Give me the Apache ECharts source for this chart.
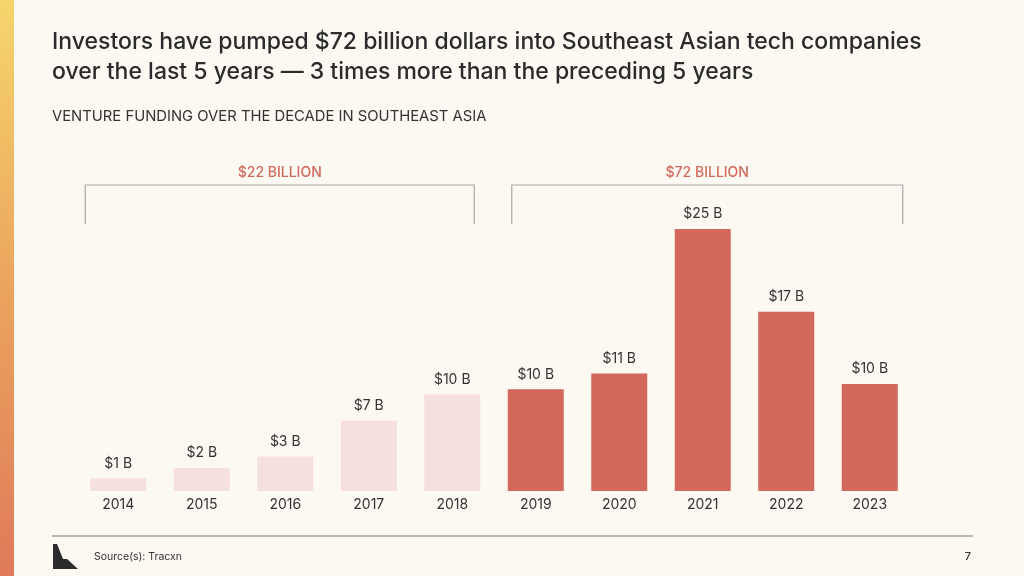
<!DOCTYPE html>
<html>
<head>
<meta charset="utf-8">
<script src="https://cdn.jsdelivr.net/npm/echarts@6/dist/echarts.min.js"></script>
<style>
html,body{margin:0;padding:0;background:#fcf8f2;}
#chart{width:1024px;height:576px;}
</style>
</head>
<body>
<div id="chart"></div>
<script>
const years = ['2014','2015','2016','2017','2018','2019','2020','2021','2022','2023'];
const funding = [1.2, 2.2, 3.3, 6.7, 9.2, 9.7, 11.2, 25, 17.1, 10.2];
const valueLabels = ['$1 B','$2 B','$3 B','$7 B','$10 B','$10 B','$11 B','$25 B','$17 B','$10 B'];
const groupLabels = ['$22 BILLION', '$72 BILLION'];
const groupStart = [0, 5];
const groupEnd = [4, 9];
const titleLines = ['Investors have pumped $72 billion dollars into Southeast Asian tech companies',
                    'over the last 5 years \u2014 3 times more than the preceding 5 years'];
const subtitle = 'VENTURE FUNDING OVER THE DECADE IN SOUTHEAST ASIA';
const sourceText = 'Source(s): Tracxn';
const pageNum = '7';

const FONT = 'Inter, "Noto Sans", sans-serif';
const chart = echarts.init(document.getElementById('chart'));

const option = {
  backgroundColor: '#fcf8f2',
  animation: false,
  grid: { left: 76.5, right: 112.5, top: 229, bottom: 85 },
  xAxis: {
    type: 'category',
    data: years,
    axisLine: { show: false },
    axisTick: { show: false },
    axisLabel: { color: '#333', fontSize: 14, fontFamily: FONT, margin: 7 }
  },
  yAxis: { type: 'value', min: 0, max: 25, show: false, splitLine: { show: false } },
  series: [{
    type: 'bar',
    data: funding,
    barWidth: 56,
    itemStyle: {
      color: function (p) { return p.dataIndex < groupStart[1] ? '#f6e0de' : '#d3695d'; }
    },
    label: {
      show: true,
      position: 'top',
      distance: 8,
      color: '#333',
      fontSize: 14,
      fontFamily: FONT,
      formatter: function (p) { return valueLabels[p.dataIndex]; }
    }
  }],
  graphic: []
};
chart.setOption(option);

// decorations
const g = [];
g.push({ type: 'rect', shape: { x: 0, y: 0, width: 14, height: 576 }, style: {
  fill: new echarts.graphic.LinearGradient(0, 0, 0, 1, [
    { offset: 0, color: '#f6d56c' }, { offset: 0.5, color: '#eba45e' }, { offset: 1, color: '#df7a5a' }
  ]) } });
g.push({ type: 'text', left: 52, top: 31, style: { text: titleLines[0], fill: '#2b2b2b', font: '500 23px ' + FONT } });
g.push({ type: 'text', left: 52, top: 61, style: { text: titleLines[1], fill: '#2b2b2b', font: '500 23px ' + FONT } });
g.push({ type: 'text', left: 52, top: 109, style: { text: subtitle, fill: '#333', font: '400 14.8px ' + FONT } });

// brackets over the two periods, positioned from the category axis
const padL = [33, 24], padR = [22, 33];
for (let i = 0; i < 2; i++) {
  const x0 = chart.convertToPixel({ xAxisIndex: 0 }, years[groupStart[i]]) - padL[i];
  const x1 = chart.convertToPixel({ xAxisIndex: 0 }, years[groupEnd[i]]) + padR[i];
  g.push({ type: 'polyline', shape: { points: [[x0, 224], [x0, 185], [x1, 185], [x1, 224]] },
    style: { stroke: '#a9a9a9', lineWidth: 1.2, fill: null } });
  g.push({ type: 'text', x: (x0 + x1) / 2, y: 173, style: { text: groupLabels[i], fill: '#d36a5e',
    font: '500 14px ' + FONT, textAlign: 'center', textVerticalAlign: 'middle' } });
}

// footer
g.push({ type: 'line', shape: { x1: 52, y1: 536, x2: 973, y2: 536 }, style: { stroke: '#777', lineWidth: 1 } });
g.push({ type: 'polygon', shape: { points: [[53, 544], [53, 569], [78, 569], [67, 559], [63, 559], [57, 544]] },
  style: { fill: '#2b2b2b' } });
g.push({ type: 'text', x: 94, y: 557, style: { text: sourceText, fill: '#333', font: '400 10.5px ' + FONT, textVerticalAlign: 'middle' } });
g.push({ type: 'text', x: 971, y: 557, style: { text: pageNum, fill: '#333', font: '500 11px ' + FONT, textAlign: 'right', textVerticalAlign: 'middle' } });

chart.setOption({ graphic: g });
</script>
</body>
</html>
